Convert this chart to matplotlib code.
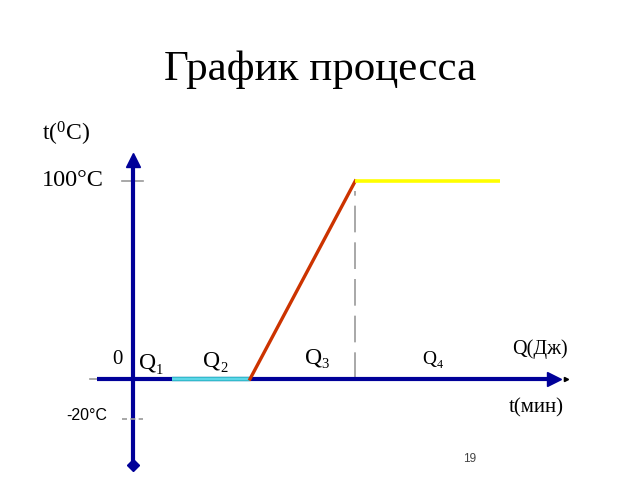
import matplotlib
matplotlib.use("Agg")
import matplotlib.pyplot as plt

plt.rcParams['font.family'] = ['Liberation Serif', 'DejaVu Serif']
plt.rcParams['mathtext.fontset'] = 'custom'
plt.rcParams['mathtext.rm'] = 'Liberation Serif'
plt.rcParams['mathtext.it'] = 'Liberation Serif'

# process stages: time (min) vs temperature (C)
melt_t = [2, 6]
melt_T = [0, 0]
heat_t = [6, 11.4]
heat_T = [0, 100]
boil_t = [11.4, 18.8]
boil_T = [100, 100]

y_ticks = [100, -20]
y_labels = ['100°C', '-20°C']
q_subs = ['1', '2', '3', '4']

fig = plt.figure(figsize=(6.4, 4.8), dpi=100)
ax = fig.add_axes([0, 0, 1, 1])
ax.set_xlim(-6.82, 26.0)
ax.set_ylim(-51.0, 191.4)
ax.axis('off')

fig.text(0.5, 1 - 70 / 480, 'График процесса', ha='center', va='center', fontsize=31)

navy = '#000099'
# axes lines
ax.plot([-2.2, -1.85], [0, 0], color='#999999', lw=1.2)
ax.plot([-1.85, 21.6], [0, 0], color=navy, lw=3, solid_capstyle='butt', zorder=3)
ax.plot([21.6], [0], marker='>', color=navy, ms=10, zorder=4)
ax.plot([22.2], [0], marker='>', color='black', ms=3, zorder=4)
ax.plot([0, 0], [-43.4, 110], color=navy, lw=3, zorder=3)
ax.plot([0], [110.5], marker='^', color=navy, ms=10, zorder=4)
ax.plot([0], [-43.4], marker='D', color=navy, ms=6, zorder=4)

# tick marks
ax.plot([-0.56, 0.51], [y_ticks[0], y_ticks[0]], color='#999999', lw=1.2, zorder=2)
ax.plot([-0.56, 0.51], [y_ticks[1], y_ticks[1]], color='#999999', lw=1.2,
        dashes=(3, 2), zorder=5)

# process segments
ax.plot(melt_t, melt_T, color='#33BBCC', lw=3.2, solid_capstyle='butt', zorder=5)
ax.plot(melt_t, melt_T, color='#66DDEE', lw=1.2, solid_capstyle='butt', zorder=6)
ax.plot(heat_t, heat_T, color='#CC3300', lw=2.4, zorder=6)
ax.plot(boil_t, boil_T, color='#FFFF00', lw=2.6, solid_capstyle='butt', zorder=6)
ax.plot([heat_t[1], heat_t[1]], [0, 95], color='#999999', lw=1.2,
        dashes=(16, 6), zorder=2)


def q_label(x, y, sub, size):
    t = ax.text(x, y, 'Q', fontsize=size, va='baseline', ha='left')
    ax.annotate(sub, (x, y), xytext=(size * 0.72, -size * 0.22),
                textcoords='offset points', fontsize=size * 0.62,
                va='baseline', ha='left')
    return t


# labels
ax.text(-4.65, 124, 't($^0$C)', fontsize=17, va='center', ha='left')
ax.text(-4.65, y_ticks[0], y_labels[0], fontsize=17.5, va='center', ha='left')
ax.text(-1.3, y_ticks[1] + 1.5, y_labels[1], fontsize=11.5, va='center', ha='right',
        family=['Liberation Sans', 'DejaVu Sans'])
ax.text(-0.8, 9.6, '0', fontsize=15, va='center', ha='center')
q_label(0.3, 5.2, q_subs[0], 17)
q_label(3.6, 6.2, q_subs[1], 17)
q_label(8.8, 8.0, q_subs[2], 17)
q_label(14.85, 7.6, q_subs[3], 14)
ax.text(19.45, 15.0, 'Q(Дж)', fontsize=14.5, va='center', ha='left')
ax.text(19.25, -14.6, 't(мин)', fontsize=15, va='center', ha='left')
fig.text(470 / 640, 1 - 459 / 480, '19', fontsize=8.5, color='#444444',
         ha='center', va='center', family=['Liberation Sans', 'DejaVu Sans'])

fig.savefig('out.png', dpi=100)
